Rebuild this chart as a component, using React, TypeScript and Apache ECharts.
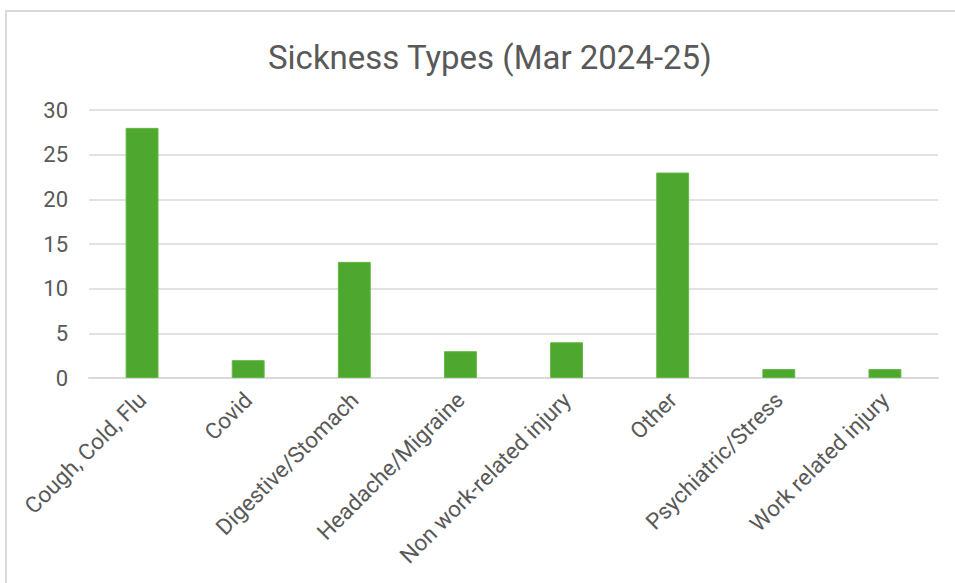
import React, { useEffect, useRef } from "react";
import * as echarts from "echarts";

const categories = [
  "Cough, Cold, Flu",
  "Covid",
  "Digestive/Stomach",
  "Headache/Migraine",
  "Non work-related injury",
  "Other",
  "Psychiatric/Stress",
  "Work related injury",
];
const counts = [28, 2, 13, 3, 4, 23, 1, 1];
const titleText = "Sickness Types (Mar 2024-25)";

export default function App() {
  const ref = useRef<HTMLDivElement>(null);

  useEffect(() => {
    if (!ref.current) return;
    const chart = echarts.init(ref.current, null, { renderer: "svg" });
    chart.setOption({
      animation: false,
      backgroundColor: "#ffffff",
      title: {
        text: titleText,
        left: 263,
        top: 36,
        textStyle: {
          fontFamily: "Roboto",
          fontSize: 33,
          fontWeight: "normal",
          color: "#595959",
        },
      },
      graphic: [
        {
          type: "rect",
          shape: { x: 6, y: 11, width: 1000, height: 1000 },
          style: { fill: "none", stroke: "#d9d9d9", lineWidth: 2 },
          silent: true,
        },
      ],
      grid: { left: 89, right: 17, top: 110, bottom: 205 },
      xAxis: {
        type: "category",
        data: categories,
        axisLine: { lineStyle: { color: "#d9d9d9", width: 2 } },
        axisTick: { show: false },
        axisLabel: {
          rotate: 45,
          interval: 0,
          margin: 18,
          fontFamily: "Roboto",
          fontSize: 22.5,
          color: "#595959",
        },
      },
      yAxis: {
        type: "value",
        min: 0,
        max: 30,
        interval: 5,
        axisLine: { show: false },
        axisTick: { show: false },
        splitLine: { lineStyle: { color: "#d9d9d9", width: 1.5 } },
        axisLabel: {
          margin: 21,
          fontFamily: "Roboto",
          fontSize: 22,
          color: "#595959",
        },
      },
      series: [
        {
          type: "bar",
          data: counts,
          barWidth: "31%",
          itemStyle: { color: "#4ea72e", borderColor: "#64b844", borderWidth: 1 },
        },
      ],
    });
    return () => chart.dispose();
  }, []);

  return (
    <div
      ref={ref}
      style={{ position: "fixed", left: 0, top: 0, width: 955, height: 583 }}
    />
  );
}
